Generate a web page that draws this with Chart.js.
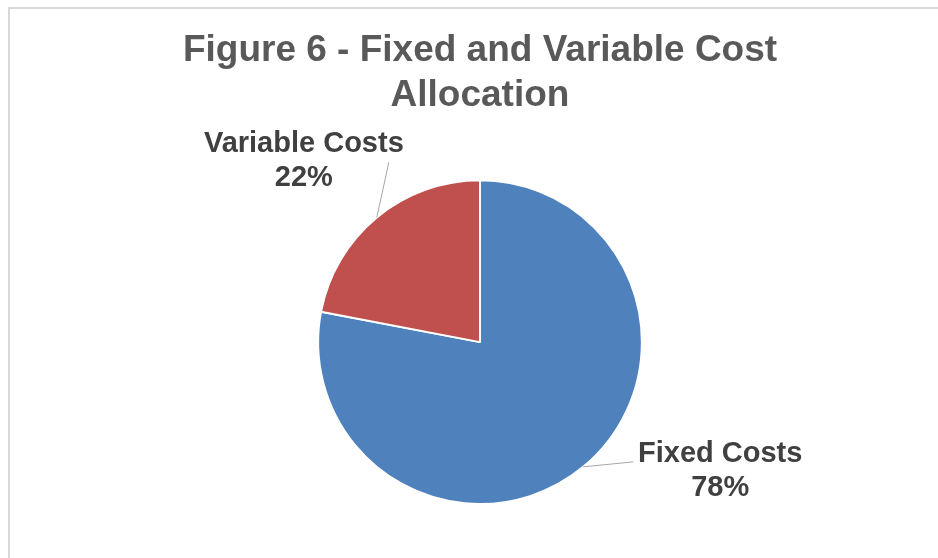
<!DOCTYPE html>
<html>
<head>
<meta charset="utf-8">
<script src="https://cdn.jsdelivr.net/npm/chart.js@4"></script>
<style>
    html, body { margin: 0; padding: 0; background: #fff; }
    #wrap { position: relative; width: 938px; height: 558px; overflow: hidden; }
    #frame {
        position: absolute; left: 8px; top: 7px; width: 1000px; height: 600px;
        border-left: 2px solid #d9d9d9; border-top: 2px solid #d9d9d9;
    }
    canvas { position: absolute; left: 0; top: 0; }
</style>
</head>
<body>
<div id="wrap">
    <div id="frame"></div>
    <canvas id="costChart" width="938" height="558"></canvas>
</div>
<script>
const categories = ['Fixed Costs', 'Variable Costs'];
const shares = [78, 22];
const sliceColors = ['#4F81BD', '#C0504D'];

// where each data label sits, relative to the slice's outer edge at its mid angle
const labelPlacement = [
    { leadX: 50, leadY: -5, textX: 137, textY: -5 },
    { leadX: 12, leadY: -55, textX: -73, textY: -65 }
];

const dataLabels = {
    id: 'dataLabels',
    afterDatasetsDraw(chart) {
        const ctx = chart.ctx;
        const meta = chart.getDatasetMeta(0);
        const total = shares.reduce((a, b) => a + b, 0);
        meta.data.forEach((arc, i) => {
            const mid = (arc.startAngle + arc.endAngle) / 2;
            const ex = arc.x + Math.cos(mid) * arc.outerRadius;
            const ey = arc.y + Math.sin(mid) * arc.outerRadius;
            const p = labelPlacement[i];

            ctx.save();
            ctx.strokeStyle = '#a6a6a6';
            ctx.lineWidth = 1;
            ctx.beginPath();
            ctx.moveTo(ex, ey);
            ctx.lineTo(ex + p.leadX, ey + p.leadY);
            ctx.stroke();

            ctx.fillStyle = '#404040';
            ctx.font = 'bold 29px "Liberation Sans", Arial, sans-serif';
            ctx.textAlign = 'center';
            ctx.textBaseline = 'alphabetic';
            const pct = Math.round(shares[i] / total * 100) + '%';
            ctx.fillText(categories[i], ex + p.textX, ey + p.textY);
            ctx.fillText(pct, ex + p.textX, ey + p.textY + 34);
            ctx.restore();
        });
    }
};

new Chart(document.getElementById('costChart'), {
    type: 'pie',
    data: {
        labels: categories,
        datasets: [{
            data: shares,
            backgroundColor: sliceColors,
            borderColor: '#ffffff',
            borderWidth: 2,
            hoverOffset: 0
        }]
    },
    options: {
        responsive: false,
        animation: false,
        layout: { padding: { left: 22, right: 0, top: 0, bottom: 53 } },
        plugins: {
            legend: { display: false },
            tooltip: { enabled: false },
            title: {
                display: true,
                text: ['Figure 6 - Fixed and Variable Cost', 'Allocation'],
                color: '#595959',
                font: { family: '"Liberation Sans", Arial, sans-serif', size: 37, weight: 'bold', lineHeight: 1.22 },
                padding: { top: 28, bottom: 61 }
            }
        }
    },
    plugins: [dataLabels]
});
</script>
</body>
</html>
